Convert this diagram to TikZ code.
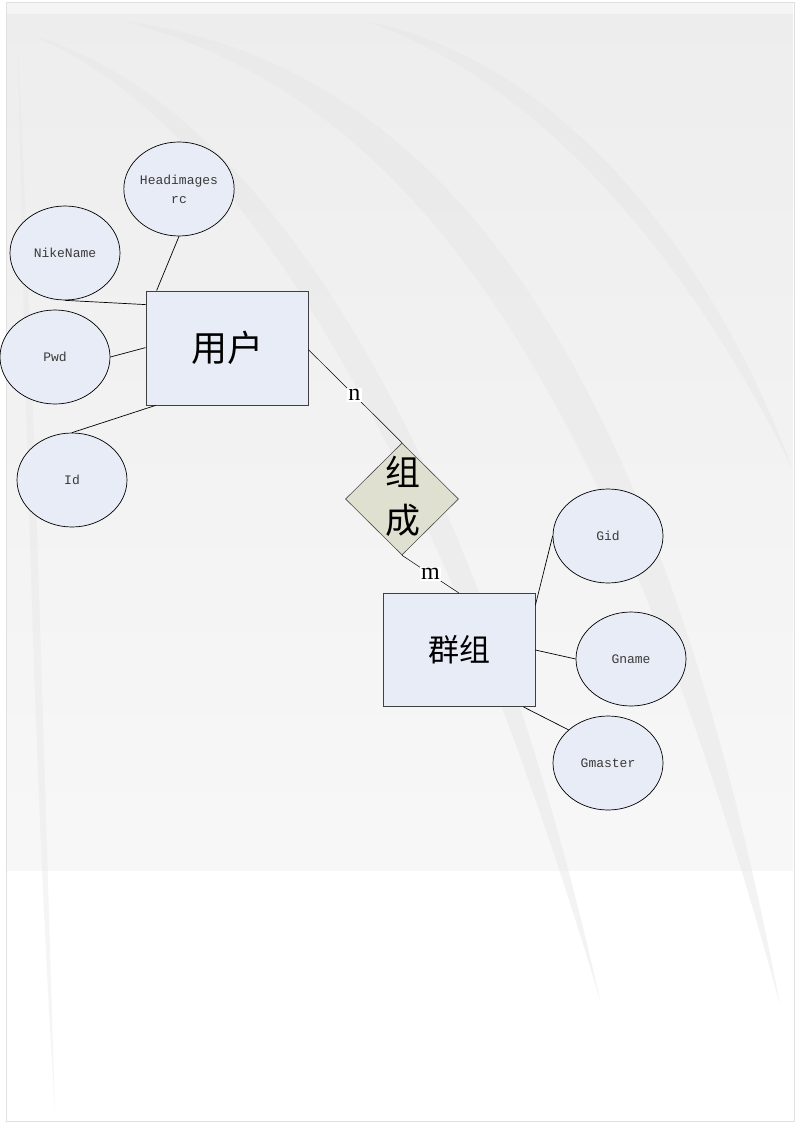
\documentclass[tikz,border=0pt]{standalone}
\usepackage{fontspec}
\setmainfont{Liberation Serif}
\newfontfamily\cjk{Noto Sans CJK SC}
\newfontfamily\attrfont{Liberation Mono}
\usetikzlibrary{shapes.geometric,calc}
\definecolor{entfill}{HTML}{E8ECF6}
\definecolor{relfill}{HTML}{DFE0CF}
\definecolor{bgband}{HTML}{E6E6E6}
\definecolor{txtgray}{HTML}{3A3A3A}
\begin{document}
\begin{tikzpicture}[x=1pt,y=-1pt,
  attr/.style={ellipse, draw=black, line width=0.7pt, fill=entfill, minimum width=110, minimum height=94, inner sep=0pt, align=center, font=\attrfont\fontsize{13}{19}\selectfont, text=txtgray},
  entity/.style={rectangle, draw=black!75, line width=0.8pt, fill=entfill, inner sep=0pt},
  rel/.style={diamond, draw=black!70, line width=0.6pt, fill=relfill, inner sep=0pt, minimum width=113, minimum height=112},
  conn/.style={draw=black, line width=0.7pt},
  card/.style={fill=white, inner sep=1.5pt, font=\fontsize{24}{24}\selectfont, text=black}
]
% background / page
\useasboundingbox (0,0) rectangle (800,1123);
\fill[white] (0,0) rectangle (800,1123);
\shade[top color=black!7, bottom color=black!3] (7,14) rectangle (793,870);
\fill[black!4] (7,3) rectangle (793,14);
\fill[bgband, opacity=0.45] (36,37) .. controls (250,100) and (470,420) .. (600,1000) .. controls (430,430) and (230,120) .. (36,37);
\fill[bgband, opacity=0.45] (122,21) .. controls (420,60) and (650,320) .. (780,1005) .. controls (600,340) and (390,90) .. (122,21);
\fill[bgband, opacity=0.45] (365,21) .. controls (560,60) and (710,250) .. (793,470) .. controls (690,260) and (540,80) .. (365,21);
\fill[bgband, opacity=0.4] (18,50) .. controls (25,400) and (35,800) .. (55,1110) .. controls (45,800) and (35,400) .. (18,50);
\draw[black!12, line width=0.6pt] (6,2) rectangle (794,1121);

% entities
\node[entity, minimum width=162, minimum height=114] (user) at (227,348) {\cjk\fontsize{36}{36}\selectfont 用户};
\node[entity, minimum width=152, minimum height=113] (group) at (459,650) {\cjk\fontsize{31}{31}\selectfont 群组};

% relationship
\node[rel] (rel) at (402,499) {};
\node[inner sep=0pt, align=center, font=\cjk\fontsize{35}{48}\selectfont] (reltext) at (403,496) {组\\成};

% attributes
\node[attr] (head) at (179,189) {Headimages\\rc};
\node[attr] (nike) at (65,253) {NikeName};
\node[attr] (pwd) at (55,357) {Pwd};
\node[attr] (id) at (72,480) {Id};
\node[attr] (gid) at (608,536) {Gid};
\node[attr] (gname) at (631,659) {Gname};
\node[attr] (gmaster) at (608,763) {Gmaster};

% connectors user
\draw[conn] ($(user.north west)+(11,0)$) -- (head.south);
\draw[conn] ($(user.north west)+(0,14)$) -- (nike.south);
\draw[conn] ($(user.north west)+(0,57)$) -- (pwd.east);
\draw[conn] ($(user.south west)+(10,0)$) -- (id.north);
% connectors group
\draw[conn] ($(group.north east)+(0,12)$) -- (gid.west);
\draw[conn] (group.east) -- (gname.west);
\draw[conn] ($(group.south east)+(-12,0)$) -- (gmaster.140);
% relationship connectors
\draw[conn, line width=0.5pt] ($(user.north east)+(0,59)$) -- node[card, pos=0.49] (ncard) {n} (rel.north);
\draw[conn, line width=0.5pt] (rel.south) -- node[card, pos=0.5] (mcard) {m} (group.north);
\end{tikzpicture}
\end{document}
